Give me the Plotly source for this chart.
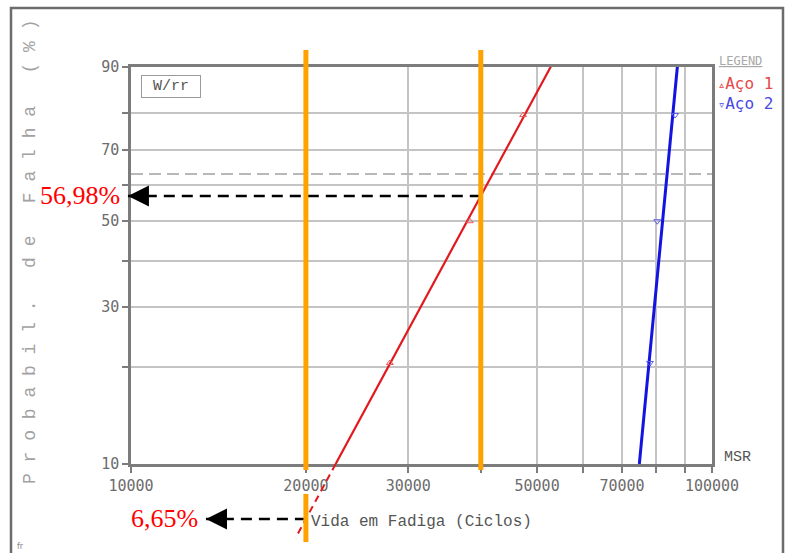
import numpy as np
import plotly.graph_objects as go

# ---------------------------------------------------------------- data
prob_rank = [20.6, 50.0, 79.4]            # median ranks (%) for three specimens
aco1_cycles = [27900, 38300, 47300]        # Aço 1 fatigue lives
aco2_cycles = [78200, 80500, 86400]        # Aço 2 fatigue lives

aco2_beta = 20.45                          # Weibull shape of the Aço 2 fit
aco2_eta = 83700                           # Weibull scale (cycles) of the Aço 2 fit

ref_cycles = [40000, 20000]                # lives marked by the orange guides
ref_prob = [56.98, 6.65]                   # Aço 1 failure probability at those lives (%)
ref_text = ["56,98%", "6,65%"]
arrow_tip_cycles = [9880, 13460]           # where each read-off arrow points
ext_end_cycles = 19200                     # dashed extrapolation of Aço 1 ends here

char_life_prob = 63.21                     # 1 - 1/e : characteristic-life level

prob_ticks = [10, 20, 30, 40, 50, 60, 70, 80, 90]
prob_ticktext = ["10", "", "30", "", "50", "", "70", "", "90"]
cycle_ticks = [10000, 20000, 30000, 40000, 50000, 60000, 70000, 80000, 90000, 100000]
cycle_ticktext = ["10000", "20000", "30000", "", "50000", "", "70000", "", "", "100000"]


# ---------------------------------------------------------- weibull paper
def wb(p):
    """Ordinate of Weibull probability paper: ln(-ln(1-F))."""
    p = np.asarray(p, dtype=float) / 100.0
    return np.log(-np.log(1.0 - p))


def life(p, beta, eta):
    return eta * np.exp(wb(p) / beta)


def fit_w(cycles, beta, eta):
    return beta * np.log(np.asarray(cycles, dtype=float) / eta)


# Aço 1 fit goes through both read-off points
aco1_beta = float((wb(ref_prob[0]) - wb(ref_prob[1])) / np.log(ref_cycles[0] / ref_cycles[1]))
aco1_eta = float(ref_cycles[0] * np.exp(-wb(ref_prob[0]) / aco1_beta))

# ---------------------------------------------------------------- layout
W, H = 786, 553
X_DOM = [131 / W, 712 / W]
Y_DOM = [1 - 464 / H, 1 - 66.5 / H]
X_RANGE = [4.0, 5.0]
Y_RANGE = [float(wb(prob_ticks[0])), float(wb(prob_ticks[-1]))]


def widen(r, dom):
    s = (r[1] - r[0]) / (dom[1] - dom[0])
    return [r[0] - dom[0] * s, r[1] + (1 - dom[1]) * s]


def px(x):
    return x / W


def py(y):
    return 1 - y / H


RED = "rgb(225,25,30)"
BLUE = "rgb(20,20,225)"
GRID = "#c4c4c4"
FRAME = "#7c7c7c"
TICKFONT = dict(family="DejaVu Sans Mono", size=15, color="#6c6c6c")
MONO = "Liberation Mono"

fig = go.Figure()

# characteristic-life reference line
fig.add_trace(go.Scatter(
    x=[cycle_ticks[0], cycle_ticks[-1]], y=[float(wb(char_life_prob))] * 2,
    mode="lines", line=dict(color="#b8b8b8", width=2, dash="12px,6px"),
    showlegend=False, hoverinfo="skip"))

# Aço 1: fitted line and points
fig.add_trace(go.Scatter(
    x=life([prob_ticks[0], prob_ticks[-1]], aco1_beta, aco1_eta),
    y=wb([prob_ticks[0], prob_ticks[-1]]),
    mode="lines", line=dict(color=RED, width=2.2), showlegend=False))
fig.add_trace(go.Scatter(
    x=aco1_cycles, y=wb(prob_rank), mode="markers", name="Aço 1",
    marker=dict(symbol="triangle-up-open", size=6, color="rgb(235,90,90)", line=dict(width=1)),
    showlegend=False))

# Aço 2: fitted line and points
fig.add_trace(go.Scatter(
    x=life([prob_ticks[0], prob_ticks[-1]], aco2_beta, aco2_eta),
    y=wb([prob_ticks[0], prob_ticks[-1]]),
    mode="lines", line=dict(color=BLUE, width=3), showlegend=False))
fig.add_trace(go.Scatter(
    x=aco2_cycles, y=wb(prob_rank), mode="markers", name="Aço 2",
    marker=dict(symbol="triangle-down-open", size=6, color="rgb(90,90,235)", line=dict(width=1)),
    showlegend=False))

# overlay subplot spanning the page, same scales, for read-off marks
ext_x = [float(life(prob_ticks[0], aco1_beta, aco1_eta)), ext_end_cycles]
fig.add_trace(go.Scatter(
    x=ext_x, y=fit_w(ext_x, aco1_beta, aco1_eta), xaxis="x2", yaxis="y2",
    mode="lines", line=dict(color=RED, width=2, dash="7px,5px"), showlegend=False))
for c, p, tip in zip(ref_cycles, ref_prob, arrow_tip_cycles):
    fig.add_trace(go.Scatter(
        x=[c, tip], y=[float(wb(p))] * 2, xaxis="x2", yaxis="y2",
        mode="lines", line=dict(color="black", width=2.5, dash="11px,7px"),
        showlegend=False))

annotations = []
for p, tip, txt in zip(ref_prob, arrow_tip_cycles, ref_text):
    annotations.append(dict(
        xref="x2", yref="y2", x=float(np.log10(tip)), y=float(wb(p)),
        ax=21, ay=0, text="", showarrow=True, arrowhead=2, arrowsize=2.1,
        arrowwidth=2, arrowcolor="black", standoff=0))
    annotations.append(dict(
        xref="x2", yref="y2", x=float(np.log10(tip)), y=float(wb(p)),
        xanchor="right", yanchor="middle", xshift=-6, showarrow=False,
        text=txt, font=dict(family="Liberation Serif", size=26, color="red")))

# orange guides at the marked lives
shapes = []
for c, y_bottom in zip(ref_cycles, [470, 470]):
    shapes.append(dict(type="line", xref="x2", yref="paper", x0=c, x1=c,
                       y0=py(y_bottom), y1=py(50), line=dict(color="#FFA200", width=5)))
shapes.append(dict(type="line", xref="x2", yref="paper", x0=ref_cycles[1], x1=ref_cycles[1],
                   y0=py(542), y1=py(494), line=dict(color="#FFA200", width=5)))
# page border
shapes.append(dict(type="rect", xref="paper", yref="paper", x0=px(11), x1=px(783),
                   y0=py(575), y1=py(8), line=dict(color="#6c6c6c", width=2.5),
                   layer="below"))


def label(x, y, text, size, color, family=MONO, xanchor="center", **kw):
    return dict(xref="paper", yref="paper", x=px(x), y=py(y), text=text,
                xanchor=xanchor, yanchor="middle", showarrow=False,
                font=dict(family=family, size=size, color=color), **kw)


NB = "\u00a0"
ytitle = NB.join("Probabil. de Falha (%)".replace(" ", NB))
annotations += [
    label(30, 252, ytitle, 18, "#a2a2a2", textangle=-90),
    label(421, 522, "Vida em Fadiga (Ciclos)", 16, "#555555"),
    label(722, 457, "MSR", 15, "#555555", xanchor="left"),
    label(171, 86.5, NB + "W/rr" + NB, 15, "#555555", bordercolor="#9a9a9a", borderwidth=1,
          borderpad=2, bgcolor="white"),
    label(717, 61, "<u>LEGEND</u>", 12, "#a8a8a8", family="DejaVu Sans Mono", xanchor="left"),
    label(716, 83, "<span style='font-size:12px'>▵</span>Aço 1", 16, "rgb(228,72,72)",
          family="DejaVu Sans Mono", xanchor="left"),
    label(716, 103, "<span style='font-size:12px'>▿</span>Aço 2", 16, "rgb(72,72,228)",
          family="DejaVu Sans Mono", xanchor="left"),
    label(20, 546, "fr", 8, "#888888", family="DejaVu Sans"),
]

fig.update_layout(
    width=W, height=H, template="none",
    margin=dict(l=0, r=0, t=0, b=0, pad=0),
    paper_bgcolor="white", plot_bgcolor="rgba(0,0,0,0)",
    showlegend=False,
    xaxis=dict(type="log", range=X_RANGE, domain=X_DOM, anchor="y",
               tickmode="array", tickvals=cycle_ticks, ticktext=cycle_ticktext,
               showgrid=True, gridcolor=GRID, gridwidth=1.5,
               showline=True, linecolor=FRAME, linewidth=2.5, mirror=True,
               ticks="outside", ticklen=6, tickwidth=1.5, tickcolor=FRAME,
               tickfont=TICKFONT, zeroline=False, automargin=False),
    yaxis=dict(range=Y_RANGE, domain=Y_DOM, anchor="x",
               tickmode="array", tickvals=wb(prob_ticks).tolist(), ticktext=prob_ticktext,
               showgrid=True, gridcolor=GRID, gridwidth=1.5,
               showline=True, linecolor=FRAME, linewidth=2.5, mirror=True,
               ticks="outside", ticklen=6, tickwidth=1.5, tickcolor=FRAME,
               tickfont=TICKFONT, zeroline=False, automargin=False),
    xaxis2=dict(type="log", range=widen(X_RANGE, X_DOM), domain=[0, 1], anchor="y2",
                visible=False, showgrid=False, zeroline=False),
    yaxis2=dict(range=widen(Y_RANGE, Y_DOM), domain=[0, 1], anchor="x2",
                visible=False, showgrid=False, zeroline=False),
    shapes=shapes, annotations=annotations,
)

fig.write_html("out.html")
